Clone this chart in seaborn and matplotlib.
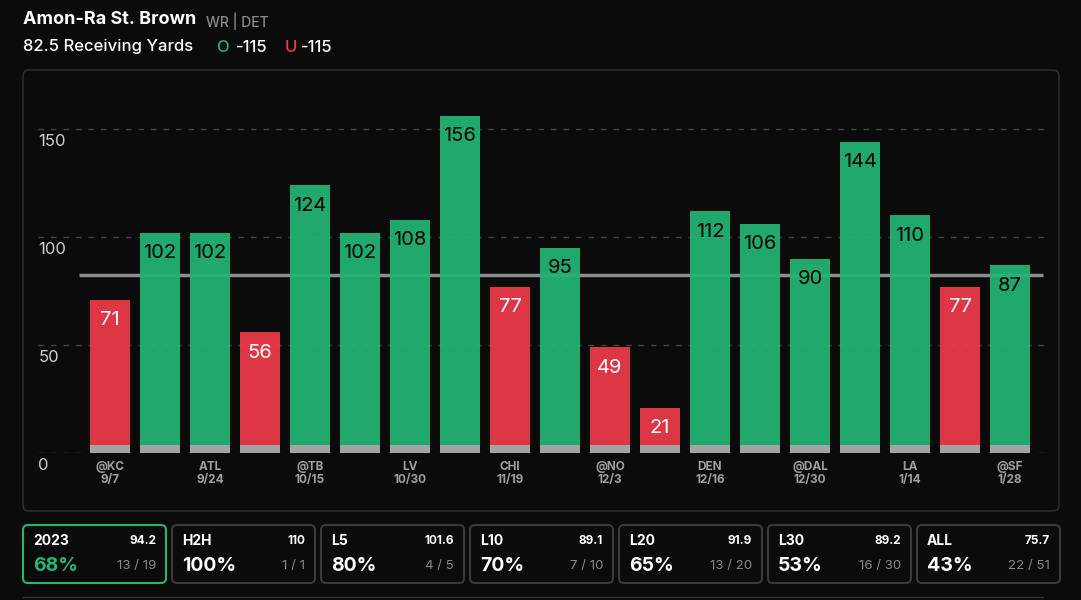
import matplotlib
matplotlib.use("Agg")
import matplotlib.pyplot as plt
from matplotlib.patches import FancyBboxPatch
import seaborn as sns
import pandas as pd

# game log data
yards = [71, 102, 102, 56, 124, 102, 108, 156, 77, 95, 49, 21, 112, 106, 90, 144, 110, 77, 87]
opponents = ["@KC", "", "ATL", "", "@TB", "", "LV", "", "CHI", "", "@NO", "", "DEN", "", "@DAL", "", "LA", "", "@SF"]
dates = ["9/7", "", "9/24", "", "10/15", "", "10/30", "", "11/19", "", "12/3", "", "12/16", "", "12/30", "", "1/14", "", "1/28"]
line_value = 82.5
y_ticks = [0, 50, 100, 150]

# summary cards
card_names = ["2023", "H2H", "L5", "L10", "L20", "L30", "ALL"]
card_avgs = ["94.2", "110", "101.6", "89.1", "91.9", "89.2", "75.7"]
card_pcts = ["68%", "100%", "80%", "70%", "65%", "53%", "43%"]
card_counts = ["13 / 19", "1 / 1", "4 / 5", "7 / 10", "13 / 20", "16 / 30", "22 / 51"]

GREEN = "#23b574"
RED = "#ee3a4a"
BG = "#0b0b0b"

sns.set_theme(style="dark")
plt.rcParams["font.family"] = ["Inter", "DejaVu Sans"]

df = pd.DataFrame({"game": range(len(yards)), "yards": yards})
df["result"] = ["over" if v > line_value else "under" for v in yards]

fig = plt.figure(figsize=(10.81, 6), dpi=100, facecolor=BG)

# background layer in pixel coordinates
bg = fig.add_axes([0, 0, 1, 1], zorder=0)
bg.set_xlim(0, 1081)
bg.set_ylim(600, 0)
bg.axis("off")
bg.set_facecolor(BG)

bg.add_patch(FancyBboxPatch((23, 70), 1036, 441, boxstyle="round,pad=0,rounding_size=6",
                            fc=BG, ec="#333333", lw=1))

# header
bg.text(23, 20, "Amon-Ra St. Brown", color="white", fontsize=13, fontweight="bold", va="center")
bg.text(206, 21, "WR | DET", color="#8a8a8a", fontsize=10, fontweight="medium", va="center")
bg.text(23, 47, "82.5 Receiving Yards", color="white", fontsize=12, fontweight="medium", va="center")
bg.text(216, 47, "O", color=GREEN, fontsize=12, fontweight="medium", va="center")
bg.text(236, 47, "-115", color="white", fontsize=12, fontweight="medium", va="center")
bg.text(285, 47, "U", color=RED, fontsize=12, fontweight="medium", va="center")
bg.text(301, 47, "-115", color="white", fontsize=12, fontweight="medium", va="center")

# cards
for i in range(len(card_names)):
    x0 = 23 + i * 149
    ec = GREEN if i == 0 else "#3a3a3a"
    bg.add_patch(FancyBboxPatch((x0, 525), 143, 58, boxstyle="round,pad=0,rounding_size=5",
                                fc=BG, ec=ec, lw=1.5))
    bg.text(x0 + 10, 541, card_names[i], color="white", fontsize=10, fontweight="bold", va="center")
    bg.text(x0 + 133, 541, card_avgs[i], color="white", fontsize=8.5, fontweight="bold",
            va="center", ha="right")
    bg.text(x0 + 10, 566, card_pcts[i], color=GREEN if i == 0 else "white", fontsize=14,
            fontweight="bold", va="center")
    bg.text(x0 + 133, 566, card_counts[i], color="#8a8a8a", fontsize=9.5, va="center", ha="right")
bg.plot([23, 1043], [597, 597], color="#333333", lw=1)

# main chart
ax = fig.add_axes([38 / 1081, 147 / 600, 1007 / 1081, 363 / 600], zorder=1)
ax.set_facecolor("none")

for t in y_ticks:
    ax.axhline(t, color="#444444", lw=1, ls=(0, (4, 5)), zorder=0)
ax.hlines(line_value, -0.62, 18.66, color="#8c8c8c", lw=2.5, zorder=1)

sns.barplot(data=df, x="game", y="yards", hue="result", palette={"over": GREEN, "under": RED},
            width=0.8, legend=False, ax=ax, zorder=2, alpha=0.93, saturation=1,
            edgecolor="none", linewidth=0)
sns.barplot(x=df["game"], y=[3.7] * len(yards), color="#a3a3a3", width=0.8, ax=ax,
            zorder=3, saturation=1, edgecolor="none", linewidth=0)

for i, v in enumerate(yards):
    ax.text(i, v - 9.5, str(v), ha="center", va="center", fontsize=14.5,
            color="black" if v > line_value else "white", zorder=4)

for t in y_ticks:
    ax.text(-1.44 + 0.01, t - 6, str(t), color="#cfcfcf", fontsize=12, va="center", ha="left")

for i in range(len(yards)):
    if opponents[i]:
        ax.text(i, -6.5, opponents[i], color="#a0a0a0", fontsize=8.5, fontweight="bold",
                ha="center", va="center", clip_on=False)
        ax.text(i, -12.5, dates[i], color="#a0a0a0", fontsize=8.5, fontweight="bold",
                ha="center", va="center", clip_on=False)

ax.set_xlim(-1.44, 18.7)
ax.set_ylim(0, 168)
ax.set_xticks([])
ax.set_yticks([])
ax.set_xlabel("")
ax.set_ylabel("")
for s in ax.spines.values():
    s.set_visible(False)

fig.savefig("out.png", dpi=100, facecolor=BG)
